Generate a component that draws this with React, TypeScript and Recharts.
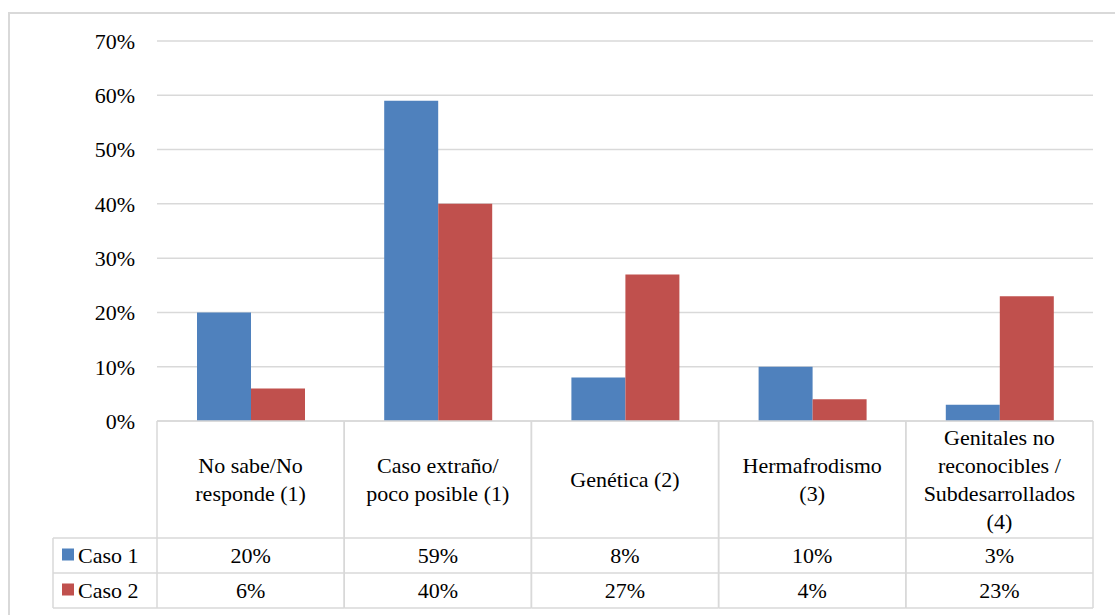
import { BarChart, Bar, XAxis, YAxis, CartesianGrid } from "recharts";

// Causes reported, per case (%)
const categories = [
  "No sabe/No\nresponde (1)",
  "Caso extraño/\npoco posible (1)",
  "Genética (2)",
  "Hermafrodismo\n(3)",
  "Genitales no\nreconocibles /\nSubdesarrollados\n(4)",
];
const caso1 = [20, 59, 8, 10, 3];
const caso2 = [6, 40, 27, 4, 23];
const yTicks = [0, 10, 20, 30, 40, 50, 60, 70];
const seriesNames = ["Caso 1", "Caso 2"];

const data = categories.map((name, i) => ({ name, caso1: caso1[i], caso2: caso2[i] }));

const W = 1115;
const H = 615;
const MARGIN = { top: 41, right: 22, bottom: 7, left: 97 };
const Y_AXIS_W = 60;
const TABLE_H = 187;
const HEADER_H = 117;
const ROW_H = 35;
const LEGEND_LEFT = 53;
const PLOT_LEFT = MARGIN.left + Y_AXIS_W;
const CELL_W = (W - MARGIN.right - PLOT_LEFT) / categories.length;

const BLUE = "#4f81bd";
const RED = "#c0504d";
const GRID = "#d9d9d9";
const FONT = "Liberation Serif, Tinos, DejaVu Serif, serif";
const FS = 22;
const LINE_H = 28;
const textStyle = { fontFamily: FONT, fontSize: FS, fill: "#000" };

// Each x tick draws one column of the data table under the plot
function TableTick(props: any) {
  const { x, y, payload } = props;
  const i = payload.index ?? props.index ?? 0;
  const left = x - CELL_W / 2;
  const right = x + CELL_W / 2;
  const lines = String(payload.value).split("\n");
  const headerMid = y + HEADER_H / 2;
  const firstLine = headerMid - ((lines.length - 1) * LINE_H) / 2;
  const r1 = y + HEADER_H;
  const r2 = r1 + ROW_H;
  const r3 = y + TABLE_H;
  const lineProps = { stroke: GRID, strokeWidth: 1.5 };
  const values = [caso1[i], caso2[i]];

  return (
    <g>
      <line x1={left} y1={y} x2={right} y2={y} {...lineProps} />
      <line x1={left} y1={y} x2={left} y2={r3} {...lineProps} />
      <line x1={right} y1={y} x2={right} y2={r3} {...lineProps} />
      <line x1={left} y1={r1} x2={right} y2={r1} {...lineProps} />
      <line x1={left} y1={r2} x2={right} y2={r2} {...lineProps} />
      <line x1={left} y1={r3} x2={right} y2={r3} {...lineProps} />
      {lines.map((ln, k) => (
        <text key={k} x={x} y={firstLine + k * LINE_H} dy="0.35em" textAnchor="middle" style={textStyle}>
          {ln}
        </text>
      ))}
      {values.map((v, k) => (
        <text
          key={"v" + k}
          x={x}
          y={r1 + ROW_H * k + ROW_H / 2}
          dy="0.35em"
          textAnchor="middle"
          style={textStyle}
        >
          {`${v}%`}
        </text>
      ))}
      {i === 0 && (
        <g>
          <line x1={LEGEND_LEFT} y1={r1} x2={left} y2={r1} {...lineProps} />
          <line x1={LEGEND_LEFT} y1={r2} x2={left} y2={r2} {...lineProps} />
          <line x1={LEGEND_LEFT} y1={r3} x2={left} y2={r3} {...lineProps} />
          <line x1={LEGEND_LEFT} y1={r1} x2={LEGEND_LEFT} y2={r3} {...lineProps} />
          {seriesNames.map((s, k) => {
            const cy = r1 + ROW_H * k + ROW_H / 2;
            return (
              <g key={s}>
                <rect x={62} y={cy - 7} width={12} height={12} fill={k === 0 ? BLUE : RED} />
                <text x={78} y={cy} dy="0.35em" style={textStyle}>
                  {s}
                </text>
              </g>
            );
          })}
        </g>
      )}
    </g>
  );
}

export default function App() {
  return (
    <div
      style={{
        position: "absolute",
        left: 0,
        top: 0,
        width: W,
        height: H,
        overflow: "hidden",
        background: "#fff",
        fontFamily: FONT,
      }}
    >
      <div
        style={{
          position: "absolute",
          left: 8,
          top: 12,
          width: 1200,
          height: 700,
          border: `2px solid ${GRID}`,
        }}
      />
      <div style={{ position: "absolute", left: 0, top: 0 }}>
        <BarChart width={W} height={H} data={data} margin={MARGIN} barGap={0} barSize={54}>
          <CartesianGrid vertical={false} stroke={GRID} strokeWidth={1.5} />
          <XAxis
            dataKey="name"
            axisLine={false}
            tickLine={false}
            tickSize={0}
            tickMargin={0}
            height={TABLE_H}
            interval={0}
            tick={<TableTick />}
          />
          <YAxis
            width={Y_AXIS_W}
            domain={[0, 70]}
            ticks={yTicks}
            axisLine={false}
            tickLine={false}
            tickMargin={16}
            tickFormatter={(v) => `${v}%`}
            tick={{ ...textStyle, style: textStyle }}
          />
          <Bar dataKey="caso1" name="Caso 1" fill={BLUE} isAnimationActive={false} />
          <Bar dataKey="caso2" name="Caso 2" fill={RED} isAnimationActive={false} />
        </BarChart>
      </div>
    </div>
  );
}
